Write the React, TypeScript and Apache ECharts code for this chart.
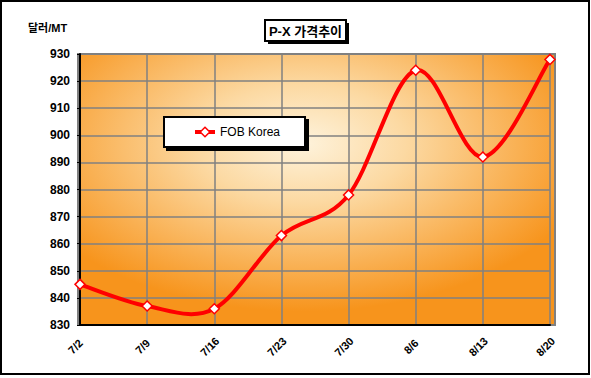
import React, { useEffect, useRef } from "react";
import * as echarts from "echarts";

const categories = ["7/2", "7/9", "7/16", "7/23", "7/30", "8/6", "8/13", "8/20"];
const fobKorea = [845, 837, 836, 863, 878, 924, 892, 928];
const seriesName = "FOB Korea";
const titleText = "P-X 가격추이";
const unitText = "달러/MT";

const FONT = "'Liberation Sans', Arial, sans-serif";

export default function App() {
  const ref = useRef<HTMLDivElement>(null);
  useEffect(() => {
    if (!ref.current) return;
    const chart = echarts.init(ref.current, undefined, { renderer: "svg" });

    // Smooth curve (Excel-like Catmull-Rom) drawn through the chart's own scales
    const renderCurve = (params: any, api: any) => {
      if (params.dataIndex !== 0) return null;
      const pts = fobKorea.map((v, i) => api.coord([i, v]));
      const n = pts.length;
      let d = `M${pts[0][0]},${pts[0][1]}`;
      for (let i = 0; i < n - 1; i++) {
        const p0 = pts[Math.max(0, i - 1)];
        const p1 = pts[i];
        const p2 = pts[i + 1];
        const p3 = pts[Math.min(n - 1, i + 2)];
        const c1x = p1[0] + (p2[0] - p0[0]) / 6;
        const c1y = p1[1] + (p2[1] - p0[1]) / 6;
        const c2x = p2[0] - (p3[0] - p1[0]) / 6;
        const c2y = p2[1] - (p3[1] - p1[1]) / 6;
        d += ` C${c1x},${c1y} ${c2x},${c2y} ${p2[0]},${p2[1]}`;
      }
      return {
        type: "path",
        shape: { pathData: d },
        style: { fill: "none", stroke: "#FF0000", lineWidth: 4, lineJoin: "round" },
      };
    };

    chart.setOption({
      animation: false,
      backgroundColor: "#ffffff",
      textStyle: { fontFamily: FONT },
      graphic: [
        {
          type: "rect",
          z: -10,
          shape: { x: 1, y: 1, width: 588, height: 373 },
          style: { fill: "#ffffff", stroke: "#000000", lineWidth: 2 },
        },
        {
          type: "rect",
          z: -5,
          shape: { x: 78, y: 54, width: 477, height: 271 },
          style: {
            fill: {
              type: "radial",
              x: 0.47,
              y: 0.33,
              r: 0.62,
              colorStops: [
                { offset: 0, color: "#FEF3DC" },
                { offset: 0.35, color: "#FCD9A2" },
                { offset: 1, color: "#F7941C" },
              ],
            },
            stroke: "#808080",
            lineWidth: 2,
          },
        },
        {
          type: "rect",
          z: 10,
          shape: { x: 268, y: 23, width: 81, height: 21 },
          style: { fill: "#000000" },
        },
        {
          type: "rect",
          z: 11,
          shape: { x: 265, y: 20, width: 81, height: 21 },
          style: { fill: "#ffffff", stroke: "#000000", lineWidth: 2 },
        },
        {
          type: "text",
          z: 12,
          x: 305.5,
          y: 31,
          style: {
            text: titleText,
            fill: "#000000",
            font: "bold 13px 'Liberation Sans', 'Noto Sans CJK KR', sans-serif",
            align: "center",
            verticalAlign: "middle",
          },
        },
        {
          type: "text",
          z: 12,
          x: 28,
          y: 28,
          style: {
            text: unitText,
            fill: "#000000",
            font: "bold 11px 'Liberation Sans', 'Noto Sans CJK KR', sans-serif",
            align: "left",
            verticalAlign: "middle",
          },
        },
      ],
      legend: {
        left: 164,
        top: 117,
        orient: "vertical",
        backgroundColor: "#ffffff",
        borderColor: "#000000",
        borderWidth: 2,
        padding: [9, 25, 9, 29],
        shadowColor: "#000000",
        shadowOffsetX: 3,
        shadowOffsetY: 3,
        shadowBlur: 0,
        itemWidth: 20,
        itemHeight: 12,
        itemGap: 5,
        textStyle: { fontSize: 12, color: "#000000", fontFamily: FONT },
        data: [
          {
            name: seriesName,
            lineStyle: { color: "#FF0000", width: 4, opacity: 1 },
            itemStyle: { color: "#ffffff", borderColor: "#FF0000", borderWidth: 1.5 },
          },
        ],
      },
      grid: { left: 80, right: 41, top: 54, bottom: 53, containLabel: false },
      xAxis: {
        type: "category",
        data: categories,
        boundaryGap: false,
        axisLine: { show: true, lineStyle: { color: "#000000", width: 2 } },
        axisTick: { show: false },
        axisLabel: {
          rotate: 45,
          align: "center",
          verticalAlign: "middle",
          margin: 17,
          padding: [0, 13, 0, 0],
          fontSize: 11,
          fontWeight: "bold",
          color: "#000000",
          fontFamily: FONT,
        },
        splitLine: { show: true, lineStyle: { color: "#808080", width: 1.5 } },
      },
      yAxis: {
        type: "value",
        min: 830,
        max: 930,
        interval: 10,
        axisLine: { show: true, lineStyle: { color: "#000000", width: 2 } },
        axisTick: { show: true, length: 3, lineStyle: { color: "#000000" } },
        axisLabel: {
          fontSize: 12,
          fontWeight: "bold",
          color: "#000000",
          margin: 10,
          fontFamily: FONT,
        },
        splitLine: { show: true, lineStyle: { color: "#808080", width: 1.5 } },
      },
      series: [
        {
          name: "curve",
          type: "custom",
          data: fobKorea,
          renderItem: renderCurve,
          encode: { x: -1, y: 0 },
          z: 4,
          silent: true,
        },
        {
          name: seriesName,
          type: "line",
          data: fobKorea,
          symbol: "diamond",
          symbolSize: 10,
          showAllSymbol: true,
          lineStyle: { color: "#FF0000", width: 4, opacity: 0 },
          itemStyle: { color: "#ffffff", borderColor: "#FF0000", borderWidth: 1.5 },
          z: 5,
        },
      ],
    });
    return () => chart.dispose();
  }, []);
  return (
    <div
      ref={ref}
      style={{ position: "fixed", left: 0, top: 0, width: 591, height: 378 }}
    />
  );
}
